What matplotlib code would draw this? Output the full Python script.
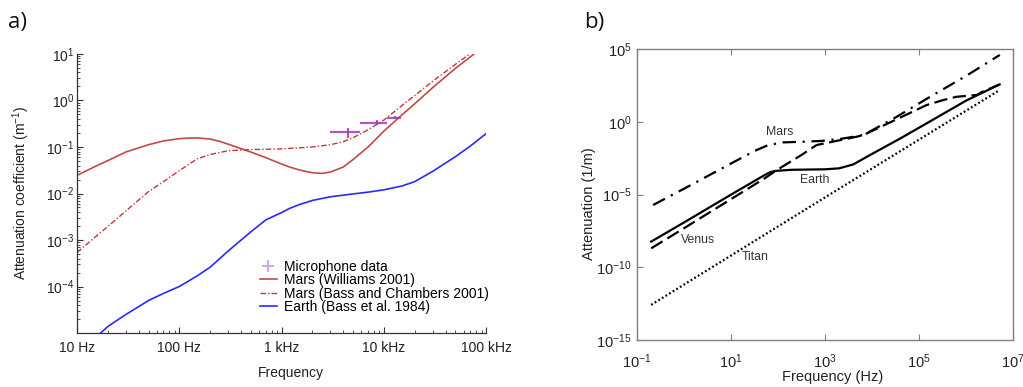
import matplotlib
matplotlib.use("Agg")
import matplotlib.pyplot as plt
from matplotlib.ticker import LogLocator, NullFormatter, NullLocator

plt.rcParams["font.family"] = ["Liberation Sans", "DejaVu Sans"]
plt.rcParams["mathtext.fontset"] = "custom"
plt.rcParams["mathtext.rm"] = "Liberation Sans"
plt.rcParams["mathtext.it"] = "Liberation Sans:italic"
plt.rcParams["mathtext.bf"] = "Liberation Sans:bold"

# ---- panel a: attenuation coefficient vs frequency (Hz, 1/m)
williams_f = [10, 15, 20, 30, 50, 70, 100, 120, 150, 200, 250, 300, 500, 700,
              1000, 1200, 1500, 1700, 2000, 2500, 3000, 4000, 5000, 7000, 10000,
              15000, 20000, 30000, 50000, 76000]
williams_a = [0.0245, 0.038, 0.051, 0.078, 0.112, 0.135, 0.151, 0.155, 0.157,
              0.148, 0.132, 0.115, 0.078, 0.059, 0.043, 0.037, 0.032, 0.030,
              0.028, 0.027, 0.029, 0.037, 0.054, 0.10, 0.22, 0.49, 0.85, 1.9,
              4.9, 10.0]

bass_f = [10, 15, 20, 30, 50, 70, 100, 150, 200, 300, 500, 1000, 2000, 3000,
          4000, 5000, 7000, 10000, 15000, 20000, 30000, 50000, 70000]
bass_a = [5.4e-4, 1.15e-3, 1.95e-3, 4.2e-3, 0.011, 0.018, 0.031, 0.056, 0.069,
          0.083, 0.088, 0.091, 0.100, 0.112, 0.130, 0.158, 0.235, 0.38, 0.78,
          1.28, 2.6, 6.0, 10.2]

earth_f = [17, 20, 30, 50, 70, 100, 150, 200, 300, 500, 700, 850, 1000, 1200,
           1500, 2000, 3000, 5000, 7000, 10000, 15000, 20000, 30000, 50000,
           70000, 100000]
earth_a = [1.0e-5, 1.38e-5, 2.5e-5, 5.0e-5, 7.1e-5, 1.0e-4, 1.7e-4, 2.6e-4,
           5.8e-4, 1.5e-3, 2.7e-3, 3.3e-3, 3.9e-3, 4.8e-3, 5.8e-3, 7.1e-3,
           8.5e-3, 9.8e-3, 1.07e-2, 1.2e-2, 1.45e-2, 1.8e-2, 3.0e-2, 6.2e-2,
           0.105, 0.195]

mic_f = [4470, 8510, 12900]
mic_a = [0.21, 0.33, 0.43]
mic_f_lo = [2950, 5890, 10700]
mic_f_hi = [5890, 10700, 14800]
mic_a_lo = [0.16, 0.29, 0.40]
mic_a_hi = [0.26, 0.38, 0.47]

a_xticks = [10, 100, 1000, 10000, 100000]
a_xlabels = ["10 Hz", "100 Hz", "1 kHz", "10 kHz", "100 kHz"]
a_yticks = [1e-4, 1e-3, 1e-2, 1e-1, 1e0, 1e1]

# ---- panel b: attenuation (1/m) for planets
b_earth_f = [0.2, 1, 10, 45, 60, 70, 88, 200, 1000, 2000, 4000, 9000, 40000,
             2e5, 1e6, 5.2e6]
b_earth_a = [5.8e-9, 1.2e-7, 9.8e-6, 1.66e-4, 2.8e-4, 3.5e-4, 4.2e-4, 5.0e-4,
             5.4e-4, 6.3e-4, 1.17e-3, 5.1e-3, 0.071, 1.4, 28, 370]

b_venus_f = [0.2, 1, 10, 52, 100, 310, 660, 1800, 4700, 6600, 1.45e5, 3.3e5,
             6.3e5, 1.7e6, 2.1e6, 4.9e6]
b_venus_a = [2.0e-9, 4.8e-8, 4.8e-6, 1.29e-4, 5.4e-4, 5.0e-3, 0.025, 0.049,
             0.093, 0.123, 14, 31, 52, 69, 105, 340]

b_mars_f = [0.22, 1, 10, 32, 62, 126, 316, 850, 2450, 6600, 32000, 1.6e5, 1e6,
            5.25e6]
b_mars_a = [1.9e-6, 2.5e-5, 1.35e-3, 0.010, 0.025, 0.038, 0.042, 0.048, 0.071,
            0.123, 2.0, 45, 1400, 3.9e4]

b_titan_f = [0.2, 1000, 5.2e6]
b_titan_a = [2.6e-13, 6.3e-6, 150]

b_labels = ["Mars", "Earth", "Venus", "Titan"]
b_label_f = [110, 590, 2.0, 32]
b_label_a = [0.2, 1e-4, 7.4e-9, 5.0e-10]

red = "#c24a46"
red_dd = "#c03838"
blue = "#2a2aff"
purple = "#a03cb0"

fig = plt.figure(figsize=(10.23, 3.87), dpi=100)

# ---------------- panel a
ax1 = fig.add_axes([0.0753, 0.1395, 0.400, 0.721])
ax1.set_xscale("log")
ax1.set_yscale("log")

xerr = [[c - lo for c, lo in zip(mic_f, mic_f_lo)],
        [hi - c for c, hi in zip(mic_f, mic_f_hi)]]
yerr = [[c - lo for c, lo in zip(mic_a, mic_a_lo)],
        [hi - c for c, hi in zip(mic_a, mic_a_hi)]]
ax1.errorbar(mic_f, mic_a, xerr=xerr, yerr=yerr, fmt="none", ecolor=purple,
             elinewidth=1.6, capsize=0, alpha=0.85, zorder=4)
ax1.plot([], [], "+", color="#d69ee6", ms=9, mew=1.3, label="Microphone data")
ax1.plot(williams_f, williams_a, color=red, lw=1.2, label="Mars (Williams 2001)")
ax1.plot(bass_f, bass_a, color=red_dd, lw=1.0, dashes=(4, 1.5, 1, 1.5),
         label="Mars (Bass and Chambers 2001)")
ax1.plot(earth_f, earth_a, color=blue, lw=1.2, label="Earth (Bass et al. 1984)")

ax1.set_xlim(10, 1e5)
ax1.set_ylim(1e-5, 10)
ax1.set_xticks(a_xticks)
ax1.set_xticklabels(a_xlabels)
ax1.set_yticks(a_yticks)
ax1.xaxis.set_minor_locator(LogLocator(base=10, subs=range(2, 10), numticks=20))
ax1.yaxis.set_minor_locator(LogLocator(base=10, subs=range(2, 10), numticks=20))
ax1.xaxis.set_minor_formatter(NullFormatter())
ax1.yaxis.set_minor_formatter(NullFormatter())
for s in ("top", "right"):
    ax1.spines[s].set_visible(False)
for s in ("left", "bottom"):
    ax1.spines[s].set_color("#333333")
    ax1.spines[s].set_linewidth(0.9)
ax1.tick_params(which="both", direction="in", colors="#333333", labelcolor="#222222",
                labelsize=10)
ax1.tick_params(which="major", length=4, width=0.8)
ax1.tick_params(which="minor", length=2.2, width=0.6)
ax1.tick_params(axis="x", pad=6)
ax1.tick_params(axis="y", pad=2)
ax1.set_xlabel("Frequency", fontsize=10, color="#222222")
ax1.xaxis.set_label_coords(0.523, -0.118)
ax1.set_ylabel("Attenuation coefficient (m$^{-1}$)", fontsize=10, color="#222222")
ax1.yaxis.set_label_coords(-0.11, 0.5)
ax1.legend(loc="upper left", bbox_to_anchor=(0.447, 0.262), frameon=False,
           fontsize=10, handlelength=1.2, handletextpad=0.5, labelspacing=-0.04,
           borderpad=0, borderaxespad=0)

# ---------------- panel b
ax2 = fig.add_axes([0.6227, 0.1214, 0.3675, 0.752])
ax2.set_xscale("log")
ax2.set_yscale("log")
ax2.plot(b_earth_f, b_earth_a, color="black", lw=1.6)
ax2.plot(b_venus_f, b_venus_a, color="black", lw=1.6, dashes=(6, 2.5))
ax2.plot(b_mars_f, b_mars_a, color="black", lw=1.6, dashes=(6, 3, 1, 3))
ax2.plot(b_titan_f, b_titan_a, color="black", lw=1.6, dashes=(0.8, 1.1))
for lab, lf, la in zip(b_labels, b_label_f, b_label_a):
    ax2.text(lf, la, lab, fontsize=8.8, color="#333333", ha="center", va="center")

ax2.set_xlim(1e-1, 1e7)
ax2.set_ylim(1e-15, 1e5)
ax2.set_xticks([1e-1, 1e1, 1e3, 1e5, 1e7])
ax2.set_yticks([1e-15, 1e-10, 1e-5, 1e0, 1e5])
ax2.xaxis.set_minor_locator(NullLocator())
ax2.yaxis.set_minor_locator(NullLocator())
for s in ax2.spines.values():
    s.set_color("#808080")
    s.set_linewidth(1.0)
ax2.tick_params(which="major", direction="in", length=4, width=0.8,
                colors="#808080", labelcolor="#222222", labelsize=10.5,
                top=True, right=False)
ax2.tick_params(axis="x", pad=9)
ax2.tick_params(axis="y", pad=4)
ax2.set_xlabel("Frequency (Hz)", fontsize=10.5, color="#222222")
ax2.xaxis.set_label_coords(0.52, -0.103)
ax2.set_ylabel("Attenuation (1/m)", fontsize=10.5, color="#222222")
ax2.yaxis.set_label_coords(-0.11, 0.47)

fig.text(0.008, 0.943, "a)", fontsize=16, family="Open Sans", va="center",
         color="#111111")
fig.text(0.571, 0.943, "b)", fontsize=16, family="Open Sans", va="center",
         color="#111111")

fig.savefig("out.png", dpi=100)
